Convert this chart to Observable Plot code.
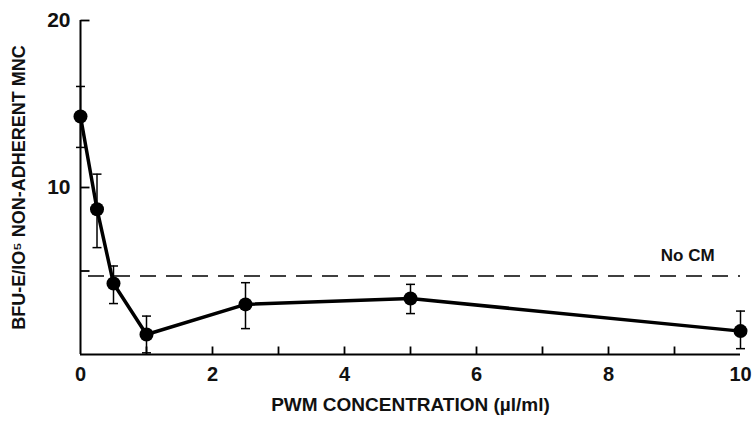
<!DOCTYPE html>
<html><head><meta charset="utf-8">
<script src="https://cdn.jsdelivr.net/npm/d3@7"></script>
<script src="https://cdn.jsdelivr.net/npm/@observablehq/plot@0.6"></script>
<style>
body{margin:0;background:#fff}
#chart svg{background:#fff}
#chart svg text{font-family:"Liberation Sans",Arial,sans-serif;font-weight:bold;fill:#111}
</style></head><body><div id="chart"></div>
<script>
// PWM concentration (µl/ml)
const concentration = [0, 0.25, 0.5, 1, 2.5, 5, 10];
// BFU-E per 10^5 non-adherent MNC
const bfuE = [14.25, 8.7, 4.25, 1.2, 3.0, 3.35, 1.4];
const errLow = [12.4, 6.4, 3.05, 0.1, 1.55, 2.45, 0.35];
const errHigh = [16.05, 10.8, 5.3, 2.3, 4.3, 4.2, 2.6];
const noCM = 4.7;
const noCMLabel = "No CM";
const noCMLabelPos = [9.2, 5.9];
const xMinorTicks = [1, 2, 3, 4, 5, 6, 7, 8, 9];
const xTickLabels = [0, 2, 4, 6, 8, 10];
const yMinorTicks = [5, 10, 20];
const yTickLabels = [10, 20];
const xLabel = "PWM CONCENTRATION (µl/ml)";
const yLabel = "BFU-E/IO⁵ NON-ADHERENT MNC";

const data = concentration.map((x, i) => ({x, y: bfuE[i], lo: errLow[i], hi: errHigh[i]}));

const rOf = (size) => Math.sqrt(size / Math.PI);
const capSymbol = {
  draw(context, size) {
    const r = rOf(size);
    context.moveTo(-r, 0);
    context.lineTo(r, 0);
  }
};
const upTickSymbol = {
  draw(context, size) {
    const r = rOf(size);
    context.moveTo(0, 0);
    context.lineTo(0, -r);
  }
};
const rightTickSymbol = {
  draw(context, size) {
    const r = rOf(size);
    context.moveTo(0, 0);
    context.lineTo(r, 0);
  }
};

const chart = Plot.plot({
  width: 754,
  height: 421,
  marginLeft: 80,
  marginRight: 14,
  marginTop: 20,
  marginBottom: 67,
  x: {domain: [0, 10]},
  y: {domain: [0, 20]},
  marks: [
    Plot.axisX(xTickLabels, {tickSize: 0, tickPadding: 12, fontSize: 20, label: null}),
    Plot.axisY(yTickLabels, {tickSize: 0, tickPadding: 10, fontSize: 21, label: null}),
    Plot.ruleY([0], {strokeWidth: 2}),
    Plot.ruleX([0], {strokeWidth: 2}),
    Plot.dot(xMinorTicks, {x: d => d, y: () => 0, symbol: upTickSymbol, r: 8, stroke: "black", fill: "none", strokeWidth: 1.8}),
    Plot.dot(yMinorTicks, {x: () => 0, y: d => d, symbol: rightTickSymbol, r: 9, stroke: "black", fill: "none", strokeWidth: 1.8}),
    Plot.ruleY([noCM], {insetLeft: 8, strokeDasharray: "16,10", strokeWidth: 1.5}),
    Plot.text([noCMLabel], {x: () => noCMLabelPos[0], y: () => noCMLabelPos[1], text: d => d, fontSize: 17}),
    Plot.ruleX(data, {x: "x", y1: "lo", y2: "hi", strokeWidth: 1.5}),
    Plot.dot(data, {x: "x", y: "lo", symbol: capSymbol, r: 4.5, stroke: "black", fill: "none", strokeWidth: 1.5}),
    Plot.dot(data, {x: "x", y: "hi", symbol: capSymbol, r: 4.5, stroke: "black", fill: "none", strokeWidth: 1.5}),
    Plot.line(data, {x: "x", y: "y", strokeWidth: 3.5, stroke: "black"}),
    Plot.dot(data, {x: "x", y: "y", r: 7, fill: "black", stroke: "none"}),
    Plot.text([xLabel], {frameAnchor: "bottom", textAnchor: "middle", dy: 56, text: d => d, fontSize: 19}),
    Plot.text([yLabel], {frameAnchor: "left", textAnchor: "middle", dx: -61, rotate: -90, text: d => d, fontSize: 18})
  ]
});
document.getElementById("chart").appendChild(chart);
</script>
</body></html>
